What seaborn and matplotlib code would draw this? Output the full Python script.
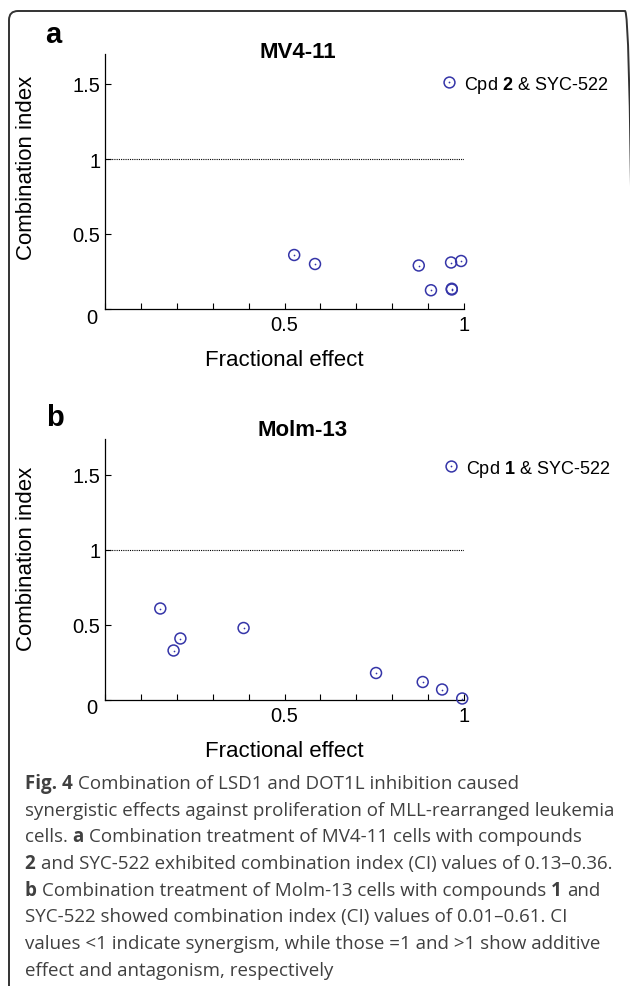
import matplotlib

matplotlib.use("Agg")
import matplotlib.pyplot as plt
import pandas as pd
import seaborn as sns
from matplotlib.legend_handler import HandlerTuple
from matplotlib.lines import Line2D
from matplotlib.patches import FancyBboxPatch
from matplotlib.ticker import MultipleLocator
from matplotlib.transforms import IdentityTransform

# panel a: MV4-11, Cpd 2 & SYC-522
mv4_effect = [0.527, 0.585, 0.874, 0.908, 0.964, 0.992, 0.966, 0.966]
mv4_ci = [0.36, 0.30, 0.29, 0.125, 0.31, 0.32, 0.13, 0.135]

# panel b: Molm-13, Cpd 1 & SYC-522
molm_effect = [0.154, 0.191, 0.210, 0.386, 0.755, 0.885, 0.939, 0.995]
molm_ci = [0.61, 0.33, 0.41, 0.48, 0.18, 0.12, 0.07, 0.01]

x_ticks = [0, 0.5, 1]
x_tick_labels = ["", "0.5", "1"]
y_ticks = [0, 0.5, 1, 1.5]
y_tick_labels = ["", "0.5", "1", "1.5"]

caption_lines = [
    [("Fig. 4 ", True), ("Combination of LSD1 and DOT1L inhibition caused", False)],
    [("synergistic effects against proliferation of MLL-rearranged leukemia", False)],
    [("cells. ", False), ("a ", True), ("Combination treatment of MV4-11 cells with compounds", False)],
    [("2 ", True), ("and SYC-522 exhibited combination index (CI) values of 0.13\u20130.36.", False)],
    [("b ", True), ("Combination treatment of Molm-13 cells with compounds ", False), ("1 ", True), ("and", False)],
    [("SYC-522 showed combination index (CI) values of 0.01\u20130.61. CI", False)],
    [("values <1 indicate synergism, while those =1 and >1 show additive", False)],
    [("effect and antagonism, respectively", False)],
]

W, H = 630, 987
MARK = "#3535a8"


def px_rect(left, top, right, bottom):
    return [left / W, 1 - bottom / H, (right - left) / W, (bottom - top) / H]


def draw_panel(fig, ax, effect, ci, title, title_xy, label, label_xy, legend_label, legend_xy, ytop, ylab_y):
    df = pd.DataFrame({"effect": effect, "ci": ci})
    sns.scatterplot(data=df, x="effect", y="ci", ax=ax, marker="o", s=62,
                    facecolor="none", edgecolor=MARK, linewidth=1.1, clip_on=False, zorder=3)
    sns.scatterplot(data=df, x="effect", y="ci", ax=ax, marker="o", s=1.5,
                    color=MARK, linewidth=0, clip_on=False, zorder=4)
    ax.axhline(1, color="black", lw=0.8, ls=(0, (1, 1)), zorder=1)

    ax.set_xlim(0, 1)
    ax.set_ylim(0, ytop)
    ax.set_xticks(x_ticks)
    ax.set_xticklabels(x_tick_labels)
    ax.xaxis.set_minor_locator(MultipleLocator(0.1))
    ax.set_yticks(y_ticks)
    ax.set_yticklabels(y_tick_labels)
    ax.tick_params(which="both", direction="in", length=4, width=0.8, color="black",
                   bottom=True, left=True)
    ax.tick_params(axis="x", pad=4.5, labelsize=14.5)
    ax.tick_params(axis="y", pad=3.5, labelsize=14.5)
    ax.annotate("0", xy=(0, 0), xycoords="axes fraction", xytext=(-8, -8),
                textcoords="offset pixels", ha="right", va="center", fontsize=14.5)

    sns.despine(ax=ax)
    for side in ["left", "bottom"]:
        ax.spines[side].set_linewidth(0.9)
        ax.spines[side].set_color("black")

    ax.set_xlabel("Fractional effect", fontsize=16)
    ax.set_ylabel("Combination index", fontsize=16)
    ax.xaxis.set_label_coords(0.5, -0.155)
    ax.yaxis.set_label_coords(-0.19, ylab_y)

    fig.text(title_xy[0] / W, 1 - title_xy[1] / H, title, ha="center", va="center",
             fontsize=16, fontweight="bold")
    fig.text(label_xy[0] / W, 1 - label_xy[1] / H, label, ha="center", va="center",
             fontsize=21, fontweight="bold")

    circle = Line2D([], [], ls="none", marker="o", ms=7.8, mfc="none", mec=MARK, mew=1.1)
    dot = Line2D([], [], ls="none", marker="o", ms=1.3, mfc=MARK, mec=MARK, mew=0)
    ax.legend([(circle, dot)], [legend_label], handler_map={tuple: HandlerTuple(ndivide=1)},
              loc="center left", bbox_to_anchor=(legend_xy[0] / W, 1 - legend_xy[1] / H),
              bbox_transform=fig.transFigure, frameon=False, fontsize=13,
              handlelength=1.0, handletextpad=0.35, borderpad=0, borderaxespad=0)


def text_width(fig, renderer, text, **kw):
    t = fig.text(0, 0, "|" + text + "|", **kw)
    w1 = t.get_window_extent(renderer).width
    t.set_text("||")
    w2 = t.get_window_extent(renderer).width
    t.remove()
    return w1 - w2


def main():
    sns.set_theme(style="white")
    plt.rcParams["font.family"] = ["Liberation Sans", "DejaVu Sans"]
    plt.rcParams["mathtext.fontset"] = "custom"
    plt.rcParams["mathtext.rm"] = "Liberation Sans"
    plt.rcParams["mathtext.bf"] = "Liberation Sans:bold"
    plt.rcParams["text.color"] = "black"
    plt.rcParams["axes.labelcolor"] = "black"
    plt.rcParams["xtick.color"] = "black"
    plt.rcParams["ytick.color"] = "black"

    fig = plt.figure(figsize=(W / 100, H / 100), dpi=100)
    fig.patch.set_facecolor("white")

    ax_a = fig.add_axes(px_rect(105, 55, 464, 310))
    ax_b = fig.add_axes(px_rect(105, 440, 464, 701))

    draw_panel(fig, ax_a, mv4_effect, mv4_ci, "MV4-11", (298, 53), "a", (53, 35),
               "Cpd $\\mathbf{2}$ & SYC-522", (440, 85), 1.7, 0.557)
    draw_panel(fig, ax_b, molm_effect, molm_ci, "Molm-13", (303, 431), "b", (55, 418),
               "Cpd $\\mathbf{1}$ & SYC-522", (442, 469), 1.74, 0.546)

    # caption, drawn piece by piece so the bold bits sit inline
    renderer = fig.canvas.get_renderer()
    cap_kw = dict(family=["Open Sans", "DejaVu Sans"], fontsize=13.5, color="#404040")
    for i, segments in enumerate(caption_lines):
        x = 25
        y = 789 + i * 26.7
        for text, bold in segments:
            kw = dict(cap_kw, fontweight="bold" if bold else "normal")
            fig.text(x / W, 1 - y / H, text, ha="left", va="baseline", **kw)
            x += text_width(fig, renderer, text, **kw)

    # rounded frame around the whole figure, cut off on the right and bottom
    frame = FancyBboxPatch((9, H - 997), 625, 985, boxstyle="round,pad=0,rounding_size=9",
                           transform=IdentityTransform(), fill=False, ec="#333333", lw=1.4)
    fig.add_artist(frame)

    fig.savefig("out.png", dpi=100, facecolor="white")
    plt.close(fig)


if __name__ == "__main__":
    main()
